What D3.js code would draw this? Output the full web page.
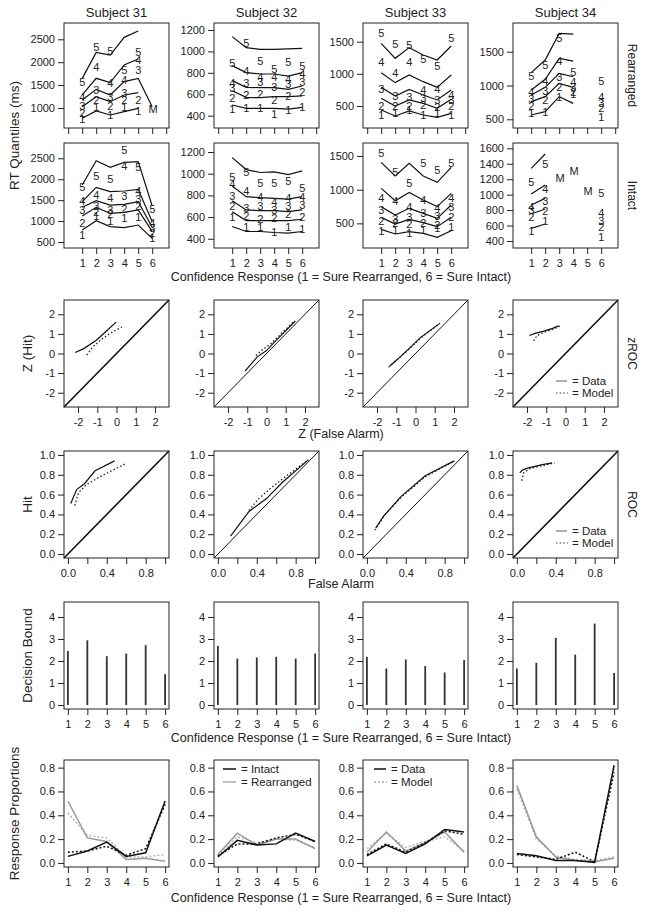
<!DOCTYPE html>
<html><head><meta charset="utf-8">
<script src="https://cdn.jsdelivr.net/npm/d3@7"></script>
<style>body{margin:0;background:#fff;}</style>
</head><body><svg id="chart" width="645" height="916"></svg>
<script>
// ---------------- DATA ----------------
const subjects = ["Subject 31", "Subject 32", "Subject 33", "Subject 34"];
const conf = [1, 2, 3, 4, 5, 6];

// RT quantile lines (rows: .1,.3,.5,.7,.9 quantile; columns: confidence 1..6), ms
const rtS31Rearranged = [
  [774, 934, 847, 920, 993, null],
  [1029, 1247, 1138, 1284, 1335, null],
  [1174, 1407, 1284, 1575, 1647, 1029],
  [1284, 1648, 1553, 1939, 2070, null],
  [1647, 2215, 2157, 2543, 2681, null]];
const rtS32Rearranged = [
  [500, 468, 468, 468, 462, 478],
  [633, 571, 568, 577, 577, 584],
  [727, 665, 661, 661, 646, 677],
  [867, 802, 789, 789, 770, 802],
  [1138, 1035, 1019, 1019, 1023, 1029]];
const rtS33Rearranged = [
  [438, 345, 423, 360, 324, 386],
  [619, 500, 594, 542, 464, 604],
  [790, 656, 759, 671, 594, 749],
  [1018, 863, 982, 878, 790, 982],
  [1474, 1241, 1407, 1293, 1215, 1433]];
const rtS34Rearranged = [
  [564, 613, 835, 736, null, null],
  [761, 835, 1032, 973, null, null],
  [860, 973, 1180, 1130, null, null],
  [934, 1091, 1401, 1362, null, null],
  [1190, 1377, 1771, 1761, null, null]];

const rtS31Intact = [
  [787, 1010, 867, 843, 906, 588],
  [1122, 1329, 1185, 1209, 1265, 747],
  [1329, 1488, 1384, 1400, 1464, 851],
  [1464, 1807, 1703, 1719, 1759, 986],
  [1863, 2444, 2285, 2404, 2420, 1361]];
const rtS32Intact = [
  [513, 467, 467, 458, 452, 467],
  [650, 568, 568, 568, 568, 580],
  [751, 666, 660, 660, 650, 666],
  [886, 788, 779, 773, 766, 788],
  [1148, 1038, 1011, 1017, 992, 1026]];
const rtS33Intact = [
  [411, 342, 376, 352, 292, 391],
  [589, 490, 559, 510, 451, 589],
  [748, 624, 723, 649, 574, 772],
  [1020, 837, 960, 847, 748, 946],
  [1406, 1203, 1391, 1203, 1109, 1332]];
const rtS34Intact = [
  [564, 620, null, null, null, null],
  [750, 814, null, null, null, null],
  [866, 952, null, null, null, null],
  [1009, 1125, null, null, null, null],
  [1341, 1527, null, null, null, null]];

// Model-predicted quantiles (plotted as digits 1..5)
const rtS31RearrangedModel = [
  [752, 1029, 847, 1014, 934, null],
  [883, 1174, 1043, 1174, 1174, null],
  [1043, 1393, 1247, 1320, 1829, null],
  [1233, 1902, 1538, 1611, 2048, null],
  [1575, 2339, 2251, 1829, 2230, null]];
const rtS32RearrangedModel = [
  [462, 468, 468, 412, 453, 478],
  [562, 593, 602, 546, 584, 624],
  [655, 702, 718, 665, 696, 718],
  [708, 820, 758, 758, 739, 789],
  [889, 1075, 914, 833, 904, 864]];
const rtS33RearrangedModel = [
  [360, 386, 438, 360, 386, 360],
  [500, 500, 500, 516, 490, 500],
  [759, 656, 645, 619, 594, 594],
  [1189, 1018, 1179, 749, 759, 671],
  [1640, 1464, 1448, 1225, 1127, 1552]];
const rtS34RearrangedModel = [
  [589, 613, 835, 874, null, 530],
  [697, 786, 973, 909, null, 663],
  [796, 924, 1121, 973, null, 736],
  [909, 1067, 1367, 1057, null, 835],
  [1140, 1303, 1697, 1204, null, 1071]];

const rtS31IntactModel = [
  [667, 1122, 1010, 1082, 1090, 588],
  [946, 1225, 1169, 1281, 1361, 723],
  [1265, 1369, 1265, 1600, 1520, 827],
  [1488, 1624, 1544, 2317, 1727, 946],
  [1807, 2086, 1998, 2699, 2301, 1289]];
const rtS32IntactModel = [
  [599, 507, 507, 458, 513, 489],
  [702, 611, 580, 589, 629, 599],
  [797, 681, 702, 666, 702, 712],
  [904, 840, 788, 742, 773, 782],
  [971, 1017, 916, 910, 934, 864]];
const rtS33IntactModel = [
  [391, 401, 362, 401, 426, 441],
  [540, 510, 490, 510, 475, 589],
  [698, 559, 589, 649, 609, 748],
  [871, 837, 738, 847, 723, 871],
  [1550, 1267, 1104, 1391, 1292, 1391]];
const rtS34IntactModel = [
  [534, 663, null, null, null, 456],
  [706, 793, null, null, null, 577],
  [795, 922, null, null, null, 663],
  [840, 1069, null, null, null, 758],
  [1168, 1397, null, null, null, 1017]];

// "M" markers (model value where data are missing)
const rtS31RearrangedMissing = [null, null, null, null, null, 971];
const rtS34IntactMissing = [null, null, 1211, 1311, 1052, null];

// RT axis ticks
const rtTicksRearranged = [[1000, 1500, 2000, 2500], [400, 600, 800, 1000, 1200], [500, 1000, 1500], [500, 1000, 1500]];
const rtTicksIntact = [[500, 1000, 1500, 2000, 2500], [400, 600, 800, 1000, 1200], [500, 1000, 1500], [400, 600, 800, 1000, 1200, 1400, 1600]];

// zROC: [z(false alarm)], [z(hit)]
const zrocS31Data = [[-2.15, -1.70, -1.05, -0.55, -0.02], [0.05, 0.25, 0.68, 1.12, 1.60]];
const zrocS31Model = [[-1.55, -1.25, -0.78, -0.30, 0.28], [-0.08, 0.32, 0.72, 1.05, 1.35]];
const zrocS32Data = [[-1.12, -0.48, 0.00, 0.45, 1.50], [-0.90, -0.17, 0.15, 0.62, 1.66]];
const zrocS32Model = [[-0.55, -0.20, 0.20, 0.65, 1.45], [-0.10, 0.20, 0.47, 0.90, 1.66]];
const zrocS33Data = [[-1.34, -0.95, -0.39, 0.25, 1.28], [-0.64, -0.31, 0.20, 0.81, 1.55]];
const zrocS33Model = [[-1.40, -0.92, -0.36, 0.25, 1.18], [-0.70, -0.28, 0.20, 0.77, 1.48]];
const zrocS34Data = [[-1.88, -1.55, -1.17, -0.67, -0.36], [0.92, 1.04, 1.13, 1.28, 1.41]];
const zrocS34Model = [[-1.65, -1.48, -1.13, -0.67, -0.28], [0.64, 0.92, 1.08, 1.23, 1.40]];
const zrocTicks = [-2, -1, 0, 1, 2];

// ROC: [false alarm], [hit]
const rocS31Data = [[0.03, 0.09, 0.17, 0.28, 0.48], [0.51, 0.65, 0.71, 0.84, 0.94]];
const rocS31Model = [[0.07, 0.11, 0.19, 0.33, 0.59], [0.49, 0.62, 0.70, 0.78, 0.91]];
const rocS32Data = [[0.13, 0.32, 0.50, 0.67, 0.93], [0.18, 0.43, 0.56, 0.73, 0.95]];
const rocS32Model = [[0.32, 0.42, 0.55, 0.72, 0.93], [0.44, 0.56, 0.67, 0.80, 0.95]];
const rocS33Data = [[0.09, 0.17, 0.35, 0.60, 0.90], [0.26, 0.38, 0.58, 0.79, 0.94]];
const rocS33Model = [[0.08, 0.18, 0.36, 0.60, 0.88], [0.24, 0.39, 0.58, 0.78, 0.93]];
const rocS34Data = [[0.03, 0.06, 0.12, 0.25, 0.36], [0.82, 0.85, 0.87, 0.90, 0.92]];
const rocS34Model = [[0.05, 0.07, 0.13, 0.25, 0.39], [0.74, 0.82, 0.86, 0.89, 0.92]];
const rocXTicks = [0, 0.2, 0.4, 0.6, 0.8, 1.0];
const rocYTicks = [0, 0.2, 0.4, 0.6, 0.8, 1.0];

// Decision bounds
const dbS31 = [2.46, 2.94, 2.22, 2.34, 2.72, 1.40];
const dbS32 = [2.69, 2.11, 2.16, 2.19, 2.11, 2.34];
const dbS33 = [2.19, 1.66, 2.07, 1.77, 1.48, 2.04];
const dbS34 = [1.66, 1.92, 3.05, 2.29, 3.70, 1.46];
const dbTicks = [0, 1, 2, 3, 4];

// Response proportions
const rpS31IntactData = [0.055, 0.10, 0.175, 0.055, 0.085, 0.52];
const rpS31IntactModel = [0.09, 0.10, 0.14, 0.065, 0.12, 0.49];
const rpS31RearrData = [0.52, 0.21, 0.18, 0.03, 0.04, 0.015];
const rpS31RearrModel = [0.42, 0.23, 0.21, 0.05, 0.05, 0.07];
const rpS32IntactData = [0.05, 0.19, 0.15, 0.16, 0.25, 0.18];
const rpS32IntactModel = [0.06, 0.16, 0.16, 0.21, 0.24, 0.18];
const rpS32RearrData = [0.07, 0.25, 0.15, 0.20, 0.20, 0.12];
const rpS32RearrModel = [0.06, 0.22, 0.17, 0.20, 0.19, 0.13];
const rpS33IntactData = [0.06, 0.15, 0.08, 0.16, 0.28, 0.26];
const rpS33IntactModel = [0.07, 0.16, 0.09, 0.17, 0.27, 0.24];
const rpS33RearrData = [0.09, 0.26, 0.10, 0.17, 0.26, 0.09];
const rpS33RearrModel = [0.12, 0.25, 0.13, 0.18, 0.22, 0.10];
const rpS34IntactData = [0.08, 0.06, 0.02, 0.02, 0.005, 0.82];
const rpS34IntactModel = [0.07, 0.05, 0.03, 0.09, 0.01, 0.76];
const rpS34RearrData = [0.65, 0.22, 0.05, 0.02, 0.01, 0.04];
const rpS34RearrModel = [0.62, 0.20, 0.06, 0.03, 0.02, 0.05];
const rpTicks = [0, 0.2, 0.4, 0.6, 0.8];

const xTitleConf = "Confidence Response (1 = Sure Rearranged, 6 = Sure Intact)";

// ---------------- LAYOUT / STYLE ----------------
const FONT = '"Liberation Sans", Arial, Helvetica, sans-serif';
const ink = "#222";
const FS = 11;
const colX = [64, 214, 363, 513];
const PW = 105;
const svg = d3.select("#chart").attr("font-family", FONT);

function styleAxis(a) {
  a.attr("font-family", FONT).attr("font-size", FS);
  a.select(".domain").remove();
  a.selectAll("line").attr("stroke", ink);
  a.selectAll("text").attr("fill", ink);
}
function leftAxis(g, y, ticks, fmt) {
  const a = g.append("g").call(d3.axisLeft(y).tickValues(ticks).tickSize(6).tickPadding(3).tickFormat(fmt || (d => d)));
  styleAxis(a);
}
function bottomAxis(g, x, h, ticks, fmt) {
  const a = g.append("g").attr("transform", `translate(0,${h})`)
    .call(d3.axisBottom(x).tickValues(ticks).tickSize(6).tickPadding(5).tickFormat(fmt || (d => d)));
  styleAxis(a);
}
function frame(g, w, h) {
  g.append("rect").attr("width", w).attr("height", h).attr("fill", "none").attr("stroke", ink).attr("stroke-width", 1);
}
function text(x, y, s, opt = {}) {
  const t = svg.append("text").attr("x", x).attr("y", y).attr("fill", ink)
    .attr("font-size", opt.size || 12).attr("text-anchor", opt.anchor || "middle")
    .attr("dominant-baseline", "central").text(s);
  if (opt.rot) t.attr("transform", `rotate(${opt.rot},${x},${y})`);
  return t;
}

// Subject titles
subjects.forEach((s, i) => text(colX[i] + PW / 2, 12, s, { size: 13 }));

// ---------------- RT QUANTILE ROWS ----------------
const rtRows = [
  { top: 23, h: 105, data: [rtS31Rearranged, rtS32Rearranged, rtS33Rearranged, rtS34Rearranged],
    model: [rtS31RearrangedModel, rtS32RearrangedModel, rtS33RearrangedModel, rtS34RearrangedModel],
    miss: [rtS31RearrangedMissing, null, null, null],
    dom: [[563, 2856], [285, 1265], [158, 1790], [371, 1925]], ticks: rtTicksRearranged,
    xt: [0, 1, 2, 3, 4, 5, 6, 7], xlab: false, strip: "Rearranged" },
  { top: 143, h: 105, data: [rtS31Intact, rtS32Intact, rtS33Intact, rtS34Intact],
    model: [rtS31IntactModel, rtS32IntactModel, rtS33IntactModel, rtS34IntactModel],
    miss: [null, null, null, rtS34IntactMissing],
    dom: [[357, 2866], [315, 1283], [134, 1693], [309, 1669]], ticks: rtTicksIntact,
    xt: conf, xlab: true, strip: "Intact" }
];
rtRows.forEach(row => {
  subjects.forEach((s, i) => {
    const g = svg.append("g").attr("transform", `translate(${colX[i]},${row.top})`);
    const x = d3.scaleLinear().domain([-0.3, 7.2]).range([0, PW]);
    const y = d3.scaleLinear().domain(row.dom[i]).range([row.h, 0]);
    const line = d3.line().defined(d => d.v != null).x(d => x(d.c)).y(d => y(d.v));
    row.data[i].forEach(q => {
      g.append("path").datum(q.map((v, k) => ({ c: conf[k], v })))
        .attr("d", line).attr("fill", "none").attr("stroke", "#111").attr("stroke-width", 1.2);
    });
    row.model[i].forEach((m, qi) => {
      m.forEach((v, k) => {
        if (v == null) return;
        g.append("text").attr("x", x(conf[k])).attr("y", y(v)).attr("text-anchor", "middle")
          .attr("dominant-baseline", "central").attr("font-size", FS).attr("fill", ink).text(qi + 1);
      });
    });
    if (row.miss[i]) row.miss[i].forEach((v, k) => {
      if (v == null) return;
      g.append("text").attr("x", x(conf[k]) + 1).attr("y", y(v)).attr("text-anchor", "middle")
        .attr("dominant-baseline", "central").attr("font-size", FS).attr("fill", ink).text("M");
    });
    leftAxis(g, y, row.ticks[i]);
    bottomAxis(g, x, row.h, row.xt, row.xlab ? (d => d) : (() => ""));
    frame(g, PW, row.h);
  });
  text(632, row.top + row.h / 2, row.strip, { size: 12, rot: 90 });
});
text(14, (23 + 248) / 2, "RT Quantiles (ms)", { size: 13.5, rot: -90 });
text(341, 277, xTitleConf, { size: 12.5 });

// ---------------- zROC / ROC ----------------
function curvePanel(top, h, dom, ticks, xticks, xfmt, yfmt, data, model, diagW, legend) {
  subjects.forEach((s, i) => {
    const g = svg.append("g").attr("transform", `translate(${colX[i]},${top})`);
    const x = d3.scaleLinear().domain(dom).range([0, PW]);
    const y = d3.scaleLinear().domain(dom).range([h, 0]);
    g.append("line").attr("x1", x(dom[0])).attr("y1", y(dom[0])).attr("x2", x(dom[1])).attr("y2", y(dom[1]))
      .attr("stroke", "#111").attr("stroke-width", diagW[i]);
    const ln = d3.line().x(d => x(d[0])).y(d => y(d[1]));
    const pts = a => a[0].map((v, k) => [v, a[1][k]]);
    g.append("path").datum(pts(model[i])).attr("d", ln).attr("fill", "none").attr("stroke", "#222")
      .attr("stroke-width", 1.3).attr("stroke-dasharray", "1.5,2.2");
    g.append("path").datum(pts(data[i])).attr("d", ln).attr("fill", "none").attr("stroke", "#111")
      .attr("stroke-width", 1.2);
    leftAxis(g, y, ticks, yfmt);
    bottomAxis(g, x, h, xticks, xfmt);
    frame(g, PW, h);
    if (i === 3) {
      const ly = legend;
      g.append("line").attr("x1", 43).attr("x2", 54).attr("y1", ly[0]).attr("y2", ly[0]).attr("stroke", "#777").attr("stroke-width", 1.2);
      g.append("line").attr("x1", 43).attr("x2", 55).attr("y1", ly[1]).attr("y2", ly[1]).attr("stroke", "#777").attr("stroke-width", 1.3).attr("stroke-dasharray", "1.5,2.2");
      g.append("text").attr("x", 59).attr("y", ly[0]).attr("dominant-baseline", "central").attr("font-size", 11.5).attr("fill", ink).text("= Data");
      g.append("text").attr("x", 59).attr("y", ly[1]).attr("dominant-baseline", "central").attr("font-size", 11.5).attr("fill", ink).text("= Model");
    }
  });
}
curvePanel(300, 107, [-2.73, 2.73], zrocTicks, zrocTicks, d => d, d => d,
  [zrocS31Data, zrocS32Data, zrocS33Data, zrocS34Data], [zrocS31Model, zrocS32Model, zrocS33Model, zrocS34Model],
  [1.6, 1, 1, 1.6], [81, 93]);
text(632, 353.5, "zROC", { size: 12, rot: 90 });
text(27, 353.5, "Z (Hit)", { size: 13.5, rot: -90 });
text(341, 434, "Z (False Alarm)", { size: 12.5 });

curvePanel(451, 107, [-0.04, 1.04], rocYTicks, rocXTicks,
  d => (Math.round(d * 10) % 4 === 0 ? d.toFixed(1) : ""), d => d.toFixed(1),
  [rocS31Data, rocS32Data, rocS33Data, rocS34Data], [rocS31Model, rocS32Model, rocS33Model, rocS34Model],
  [1.6, 1, 1, 1.6], [80, 92]);
text(632, 504.5, "ROC", { size: 12, rot: 90 });
text(27, 504.5, "Hit", { size: 13.5, rot: -90 });
text(341, 584, "False Alarm", { size: 12.5 });

// ---------------- DECISION BOUNDS ----------------
const dbAll = [dbS31, dbS32, dbS33, dbS34];
subjects.forEach((s, i) => {
  const top = 602, h = 107;
  const g = svg.append("g").attr("transform", `translate(${colX[i]},${top})`);
  const x = d3.scaleLinear().domain([0.8, 6.2]).range([0, PW]);
  const y = d3.scaleLinear().domain([-0.18, 4.68]).range([h, 0]);
  g.selectAll("line.bar").data(dbAll[i]).enter().append("line").attr("class", "bar")
    .attr("x1", (d, k) => x(conf[k])).attr("x2", (d, k) => x(conf[k]))
    .attr("y1", y(0)).attr("y2", d => y(d)).attr("stroke", "#333").attr("stroke-width", 1.8);
  leftAxis(g, y, dbTicks);
  bottomAxis(g, x, h, conf);
  frame(g, PW, h);
});
text(27, 655.5, "Decision Bound", { size: 13.5, rot: -90 });
text(341, 738, xTitleConf, { size: 12.5 });

// ---------------- RESPONSE PROPORTIONS ----------------
const rpAll = [
  [rpS31IntactData, rpS31IntactModel, rpS31RearrData, rpS31RearrModel],
  [rpS32IntactData, rpS32IntactModel, rpS32RearrData, rpS32RearrModel],
  [rpS33IntactData, rpS33IntactModel, rpS33RearrData, rpS33RearrModel],
  [rpS34IntactData, rpS34IntactModel, rpS34RearrData, rpS34RearrModel]];
const rpStyle = [
  { c: "#111", dash: null }, { c: "#111", dash: "2,2" },
  { c: "#999", dash: null }, { c: "#b5b5b5", dash: "2,2" }];
const rpDrawOrder = [3, 2, 1, 0];
subjects.forEach((s, i) => {
  const top = 760, h = 107;
  const g = svg.append("g").attr("transform", `translate(${colX[i]},${top})`);
  const x = d3.scaleLinear().domain([0.8, 6.2]).range([0, PW]);
  const y = d3.scaleLinear().domain([-0.034, 0.864]).range([h, 0]);
  const ln = d3.line().x((d, k) => x(conf[k])).y(d => y(d));
  rpDrawOrder.forEach(j => {
    const p = g.append("path").datum(rpAll[i][j]).attr("d", ln).attr("fill", "none")
      .attr("stroke", rpStyle[j].c).attr("stroke-width", 1.5);
    if (rpStyle[j].dash) p.attr("stroke-dasharray", rpStyle[j].dash);
  });
  leftAxis(g, y, rpTicks, d => d.toFixed(1));
  bottomAxis(g, x, h, conf);
  frame(g, PW, h);
  if (i === 1) {
    g.append("line").attr("x1", 9).attr("x2", 22).attr("y1", 9).attr("y2", 9).attr("stroke", "#111").attr("stroke-width", 1.5);
    g.append("line").attr("x1", 9).attr("x2", 22).attr("y1", 22).attr("y2", 22).attr("stroke", "#aaa").attr("stroke-width", 1.5);
    g.append("text").attr("x", 27).attr("y", 9).attr("dominant-baseline", "central").attr("font-size", 11.5).attr("fill", ink).text("= Intact");
    g.append("text").attr("x", 27).attr("y", 22).attr("dominant-baseline", "central").attr("font-size", 11.5).attr("fill", ink).text("= Rearranged");
  }
  if (i === 2) {
    g.append("line").attr("x1", 11).attr("x2", 23).attr("y1", 9).attr("y2", 9).attr("stroke", "#111").attr("stroke-width", 1.5);
    g.append("line").attr("x1", 11).attr("x2", 24).attr("y1", 22).attr("y2", 22).attr("stroke", "#aaa").attr("stroke-width", 1.5).attr("stroke-dasharray", "2,2");
    g.append("text").attr("x", 28).attr("y", 9).attr("dominant-baseline", "central").attr("font-size", 11.5).attr("fill", ink).text("= Data");
    g.append("text").attr("x", 28).attr("y", 22).attr("dominant-baseline", "central").attr("font-size", 11.5).attr("fill", ink).text("= Model");
  }
});
text(14, 813.5, "Response Proportions", { size: 13.5, rot: -90 });
text(341, 898, xTitleConf, { size: 12.5 });
</script></body></html>
